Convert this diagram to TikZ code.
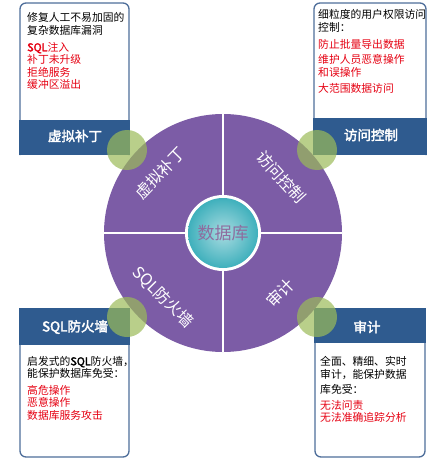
\documentclass[tikz,border=0pt]{standalone}
\usepackage{fontspec}
\setmainfont{Noto Sans CJK SC}[AutoFakeBold=2.5]
\definecolor{bandblue}{HTML}{2F5B8F}
\definecolor{edgeblue}{HTML}{4E6E9A}
\definecolor{wheelpurple}{HTML}{7C5CA6}
\definecolor{spotgreen}{HTML}{9BBB59}
\definecolor{hubcyan}{HTML}{3FB0BC}
\definecolor{hubtext}{HTML}{8E6C9E}
\definecolor{riskred}{HTML}{E60012}
\tikzset{
    note/.style={anchor=north west, inner sep=0pt, align=left, font=\fontsize{10.8}{13.5}\selectfont},
    risk/.style={note, text=riskred},
    title/.style={text=white, inner sep=0pt, font=\fontsize{13.5}{16}\selectfont\bfseries},
    sector/.style={text=white, inner sep=0pt, font=\fontsize{16}{18}\selectfont},
    frame/.style={draw=edgeblue, line width=1.3pt, fill=white, rounded corners=6pt}
}
\begin{document}
\begin{tikzpicture}[x=1pt, y=-1pt]
    \def\spot#1#2{%
        \fill[spotgreen, opacity=0.7] (#1,#2) circle (20);
    }

    \useasboundingbox (0,0) rectangle (437,460);

    \draw[frame] (20,155) -- (20,3) -- (129,3) -- (129,155);
    \fill[bandblue] (19.35,120) rectangle (129.65,155);
    \draw[frame] (314,155) -- (314,3) -- (426,3) -- (426,155);
    \fill[bandblue] (313.35,118) rectangle (426.65,155);
    \draw[frame] (20,308) -- (20,457) -- (129,457) -- (129,308);
    \fill[bandblue] (19.35,308) rectangle (129.65,345);
    \draw[frame] (315,308) -- (315,457) -- (425,457) -- (425,308);
    \fill[bandblue] (314.35,308) rectangle (425.65,343);

    \node[title] (tltitle) at (75,136) {虚拟补丁};
    \node[title] (trtitle) at (371,135) {访问控制};
    \node[title] (bltitle) at (75,327) {SQL防火墙};
    \node[title] (brtitle) at (367,327) {审计};

    \node[note] (tlnote) at (27,12) {修复人工不易加固的\\复杂数据库漏洞};
    \node[risk] (tlrisk) at (27,42) {{\bfseries SQL}注入\\[-1pt]补丁未升级\\[-1pt]拒绝服务\\[-1pt]缓冲区溢出};
    \node[note] (trnote) at (318,9) {细粒度的用户权限访问\\控制：};
    \node[risk] (trrisk) at (318,39) {防止批量导出数据\\[1.5pt]维护人员恶意操作\\[-0.5pt]和误操作\\[3pt]大范围数据访问};
    \node[note] (blnote) at (27,356) {启发式的{\bfseries SQL}防火墙，\\[-1pt]能保护数据库免受：};
    \node[risk] (blrisk) at (27,385) {高危操作\\[-1pt]恶意操作\\[-1pt]数据库服务攻击};
    \node[note] (brnote) at (320,356) {全面、精细、实时\\[-0.5pt]审计，能保护数据\\[1.5pt]库免受：};
    \node[risk] (brrisk) at (320,400) {无法问责\\[-1pt]无法准确追踪分析};

    \fill[wheelpurple] (223,233) circle (119);
    \draw[white, line width=2pt] (223,114) -- (223,352);
    \draw[white, line width=2pt] (104,233) -- (342,233);
    \fill[white] (223,233) circle (38);
    \shade[inner color=hubcyan!45!white, outer color=hubcyan] (223,233) circle (35);
    \node[text=hubtext, inner sep=0pt, font=\fontsize{17}{19}\selectfont] (hub) at (223,233) {数据库};

    \node[sector, rotate=46] (patch) at (160,173) {虚拟补丁};
    \node[sector, rotate=-48] (access) at (281,177) {访问控制};
    \node[sector, rotate=-45] (firewall) at (163,297) {SQL防火墙};
    \node[sector, rotate=45] (audit) at (280,293) {审计};

    \spot{127}{150}
    \spot{317}{150}
    \spot{127}{317}
    \spot{317}{317}
\end{tikzpicture}
\end{document}
